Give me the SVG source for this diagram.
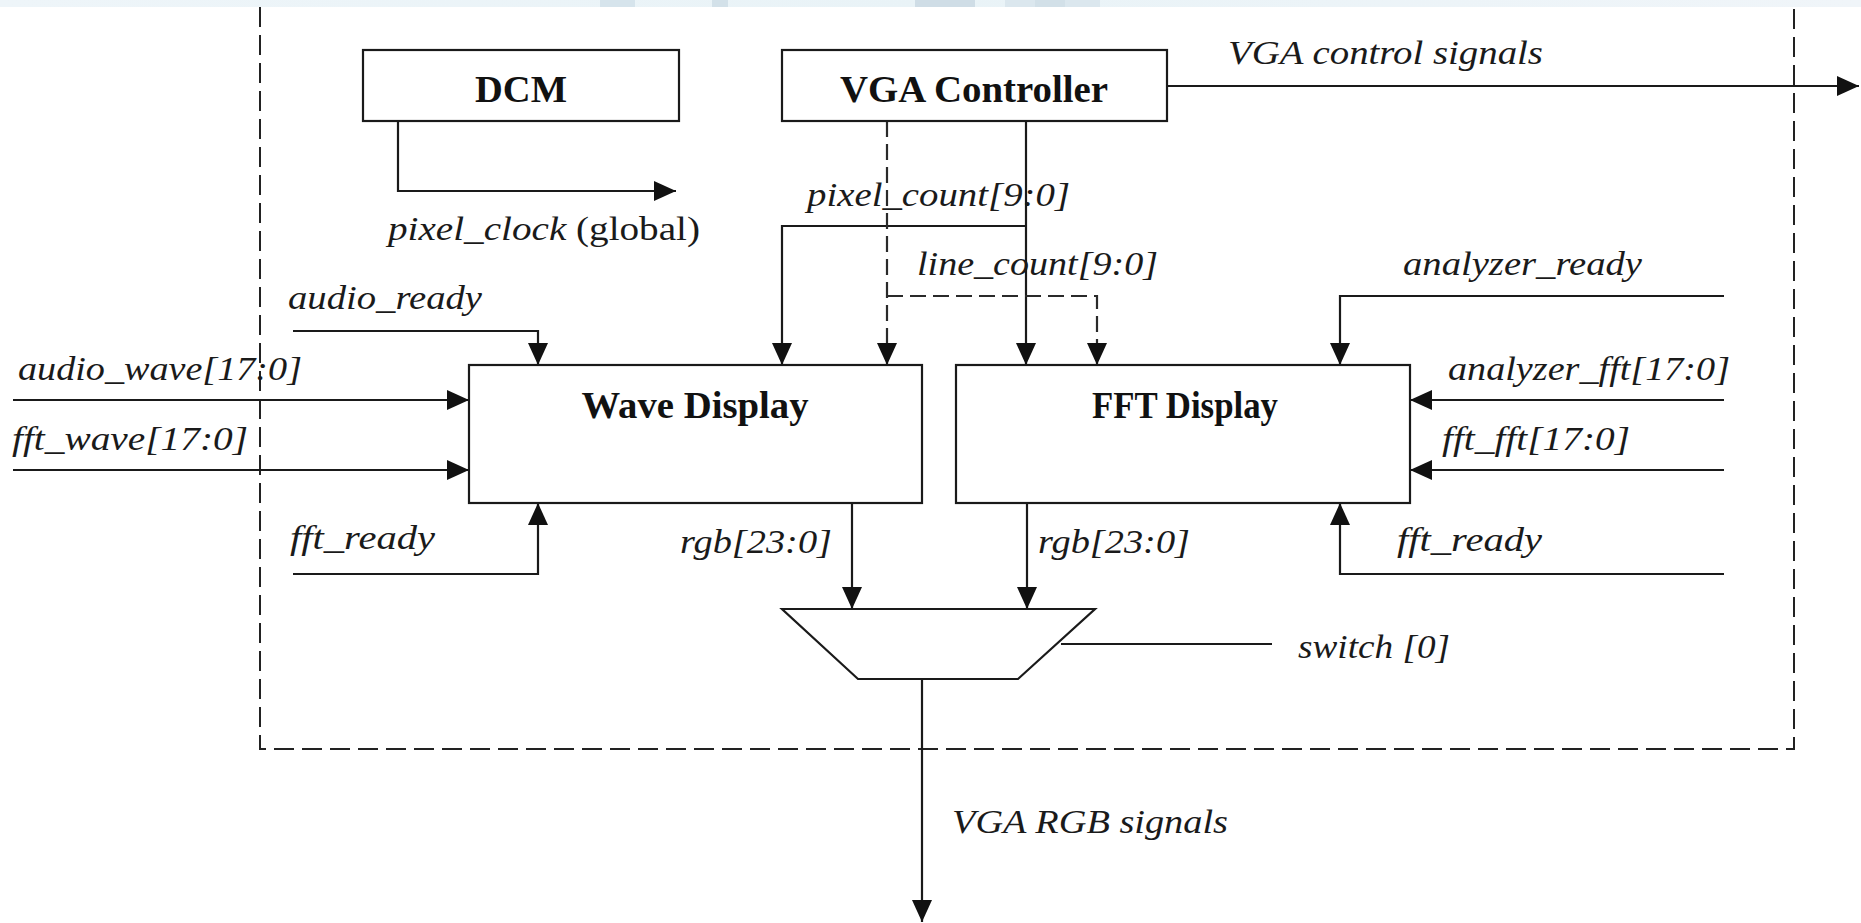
<svg xmlns="http://www.w3.org/2000/svg" width="1861" height="923" viewBox="0 0 1861 923">
  <style>
    .box { fill: #ffffff; stroke: #1a1a1a; stroke-width: 2.2; }
    .wire { fill: none; stroke: #1a1a1a; stroke-width: 2.2; }
    .dash { fill: none; stroke: #2a2a2a; stroke-width: 2.2; stroke-dasharray: 16 7; }
    .frame { fill: none; stroke: #222222; stroke-width: 2; stroke-dasharray: 20 8; }
    .lbl { font-family: "Liberation Serif", "Times New Roman", serif; font-style: italic; font-size: 33px; fill: #1a1a1a; }
    .rom { font-style: normal; }
    .title { font-family: "Liberation Serif", "Times New Roman", serif; font-weight: bold; font-size: 38px; fill: #111111; text-anchor: middle; }
  </style>
  <defs>
    <marker id="arr" viewBox="0 0 22 20" refX="22" refY="10" markerWidth="22" markerHeight="20" markerUnits="userSpaceOnUse" orient="auto">
      <path d="M0,0 L22,10 L0,20 Z" fill="#111111"/>
    </marker>
    <linearGradient id="band" x1="0" y1="0" x2="1" y2="0">
      <stop offset="0" stop-color="#eef5f9"/>
      <stop offset="0.5" stop-color="#e9f3f7"/>
      <stop offset="1" stop-color="#f0f5f9"/>
    </linearGradient>
  </defs>

  <rect x="0" y="0" width="1861" height="923" fill="#ffffff"/>
  <rect x="0" y="0" width="1861" height="7" fill="url(#band)"/>
  <rect x="600" y="0" width="35" height="7" fill="#d6e4ec"/>
  <rect x="712" y="0" width="16" height="7" fill="#d3e1e9"/>
  <rect x="915" y="0" width="60" height="7" fill="#cfdde6"/>
  <rect x="1005" y="0" width="95" height="7" fill="#dbe7ee"/>
  <rect x="1035" y="0" width="30" height="7" fill="#d2e0e8"/>

  <path id="frame" class="frame" d="M260,7 V749 H1794 V7"/>

  <g id="connectors">
    <path class="wire" d="M398,121 V191 H676" marker-end="url(#arr)"/>
    <path class="wire" d="M1167,86 H1859" marker-end="url(#arr)"/>
    <path class="wire" d="M1026,121 V365" marker-end="url(#arr)"/>
    <path class="wire" d="M1026,226 H782 V365" marker-end="url(#arr)"/>
    <path class="dash" d="M887,121 V365" marker-end="url(#arr)"/>
    <path class="dash" d="M887,296 H1097 V365" marker-end="url(#arr)"/>
    <path class="wire" d="M293,331 H538 V365" marker-end="url(#arr)"/>
    <path class="wire" d="M13,400 H469" marker-end="url(#arr)"/>
    <path class="wire" d="M13,470 H469" marker-end="url(#arr)"/>
    <path class="wire" d="M293,574 H538 V503" marker-end="url(#arr)"/>
    <path class="wire" d="M852,503 V609" marker-end="url(#arr)"/>
    <path class="wire" d="M1027,503 V609" marker-end="url(#arr)"/>
    <path class="wire" d="M1724,296 H1340 V365" marker-end="url(#arr)"/>
    <path class="wire" d="M1724,400 H1410" marker-end="url(#arr)"/>
    <path class="wire" d="M1724,470 H1410" marker-end="url(#arr)"/>
    <path class="wire" d="M1724,574 H1340 V503" marker-end="url(#arr)"/>
    <path class="wire" d="M1061,644 H1272" stroke="#333333"/>
    <path class="wire" d="M922,679 V922" marker-end="url(#arr)"/>
  </g>

  <g id="dcm">
    <rect class="box" x="363" y="50" width="316" height="71"/>
    <text class="title" x="521" y="102" textLength="92" lengthAdjust="spacingAndGlyphs">DCM</text>
  </g>
  <g id="vga-controller">
    <rect class="box" x="782" y="50" width="385" height="71"/>
    <text class="title" x="974" y="102" textLength="268" lengthAdjust="spacingAndGlyphs">VGA Controller</text>
  </g>
  <g id="wave-display">
    <rect class="box" x="469" y="365" width="453" height="138"/>
    <text class="title" x="695" y="418" textLength="227" lengthAdjust="spacingAndGlyphs">Wave Display</text>
  </g>
  <g id="fft-display">
    <rect class="box" x="956" y="365" width="454" height="138"/>
    <text class="title" x="1185" y="418" textLength="186" lengthAdjust="spacingAndGlyphs">FFT Display</text>
  </g>
  <g id="mux">
    <polygon class="box" points="782,609 1095,609 1018,679 858,679" stroke="#2a2a2a" stroke-width="2"/>
  </g>

  <g id="labels">
    <text class="lbl" x="1228" y="64" textLength="315" lengthAdjust="spacingAndGlyphs">VGA control signals</text>
    <text class="lbl" x="388" y="240" textLength="312" lengthAdjust="spacingAndGlyphs">pixel_clock<tspan class="rom"> (global)</tspan></text>
    <text class="lbl" x="807" y="206" textLength="263" lengthAdjust="spacingAndGlyphs">pixel_count[9:0]</text>
    <text class="lbl" x="917" y="275" textLength="241" lengthAdjust="spacingAndGlyphs">line_count[9:0]</text>
    <text class="lbl" x="288" y="309" textLength="194" lengthAdjust="spacingAndGlyphs">audio_ready</text>
    <text class="lbl" x="18" y="380" textLength="284" lengthAdjust="spacingAndGlyphs">audio_wave[17:0]</text>
    <text class="lbl" x="12" y="450" textLength="236" lengthAdjust="spacingAndGlyphs">fft_wave[17:0]</text>
    <text class="lbl" x="290" y="549" textLength="145" lengthAdjust="spacingAndGlyphs">fft_ready</text>
    <text class="lbl" x="680" y="553" textLength="152" lengthAdjust="spacingAndGlyphs">rgb[23:0]</text>
    <text class="lbl" x="1038" y="553" textLength="152" lengthAdjust="spacingAndGlyphs">rgb[23:0]</text>
    <text class="lbl" x="1403" y="275" textLength="239" lengthAdjust="spacingAndGlyphs">analyzer_ready</text>
    <text class="lbl" x="1448" y="380" textLength="282" lengthAdjust="spacingAndGlyphs">analyzer_fft[17:0]</text>
    <text class="lbl" x="1442" y="450" textLength="188" lengthAdjust="spacingAndGlyphs">fft_fft[17:0]</text>
    <text class="lbl" x="1397" y="551" textLength="145" lengthAdjust="spacingAndGlyphs">fft_ready</text>
    <text class="lbl" x="1298" y="658" textLength="152" lengthAdjust="spacingAndGlyphs">switch [0]</text>
    <text class="lbl" x="952" y="833" textLength="276" lengthAdjust="spacingAndGlyphs">VGA RGB signals</text>
  </g>
</svg>
